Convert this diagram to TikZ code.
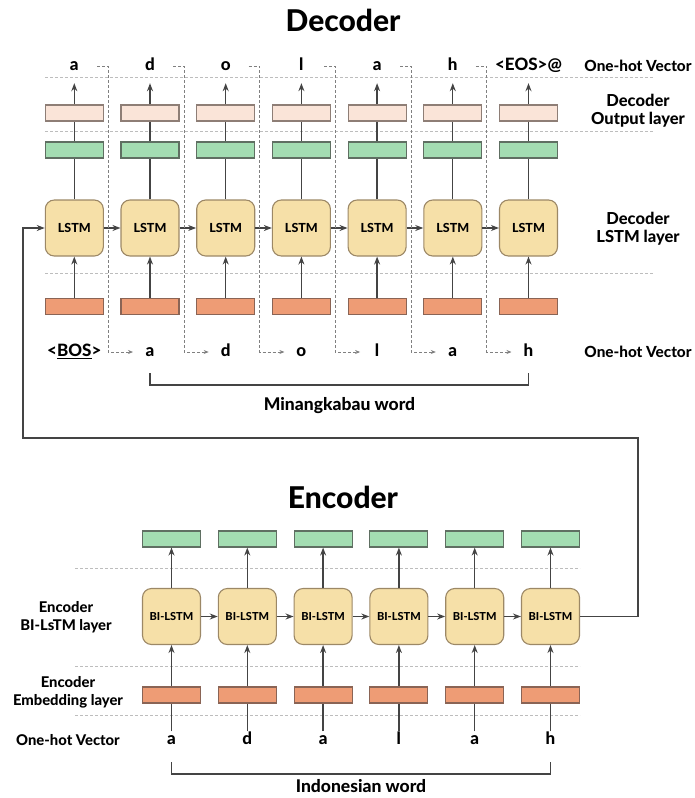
\documentclass[tikz,border=0pt]{standalone}
\usepackage{fontspec}
\setmainfont{Lato}[BoldFont={Lato Heavy}]
\usetikzlibrary{arrows.meta,positioning}

\definecolor{cellfill}{HTML}{F6E0A8}
\definecolor{cellline}{HTML}{9C8866}
\definecolor{pinkfill}{HTML}{FAE4D8}
\definecolor{pinkline}{HTML}{8E7E76}
\definecolor{greenfill}{HTML}{A3DDB2}
\definecolor{greenline}{HTML}{5F6F62}
\definecolor{orangefill}{HTML}{EE9C75}
\definecolor{orangeline}{HTML}{8A6455}
\definecolor{linegray}{HTML}{444444}
\definecolor{guidegray}{HTML}{BDBDBD}

\begin{document}
\begin{tikzpicture}
  [x=1pt,y=-1pt,
   every node/.style={font=\bfseries},
   vec/.style={minimum width=58pt,minimum height=16pt,inner sep=0pt,line width=1.1pt},
   outbox/.style={vec,draw=pinkline,fill=pinkfill},
   hidbox/.style={vec,draw=greenline,fill=greenfill},
   embbox/.style={vec,draw=orangeline,fill=orangefill},
   cell/.style={draw=cellline,fill=cellfill,line width=1.1pt,rounded corners=9pt,
     minimum width=58pt,minimum height=56pt,inner sep=0pt,
     font=\bfseries\fontsize{12.5}{12.5}\selectfont},
   bicell/.style={cell,font=\bfseries\fontsize{11}{11}\selectfont},
   tok/.style={font=\bfseries\fontsize{17}{17}\selectfont,inner sep=1pt,
     text height=12pt,text depth=3pt},
   lbl/.style={font=\bfseries\fontsize{15.3}{18}\selectfont,align=center},
   declbl/.style={lbl,font=\bfseries\fontsize{16.5}{18}\selectfont},
   enclbl/.style={lbl,font=\bfseries\fontsize{14.8}{18}\selectfont},
   wordlbl/.style={font=\bfseries\fontsize{17.5}{18}\selectfont},
   ttl/.style={font=\bfseries\fontsize{30}{30}\selectfont},
   guide/.style={draw=guidegray,dash pattern=on 3pt off 2pt,line width=0.7pt},
   feed/.style={guide,draw=gray,-{Stealth[length=5pt,width=4pt]}},
   wire/.style={draw=linegray,line width=1.3pt},
   link/.style={wire,-{Stealth[length=8pt,width=6pt]}}]

  \useasboundingbox (0,0) rectangle (695,798);

  % decoder
  \node[ttl] (dtitle) at (343,20) {Decoder};
  \draw[guide] (45,77) -- (653,77);
  \draw[guide] (45,131) -- (653,131);
  \draw[guide] (45,273) -- (653,273);

  \foreach \i/\o/\t in {1/a/{<\underline{BOS}>},2/d/a,3/o/d,4/l/o,5/a/l,6/h/a,7/{<EOS>@}/h}{
    \node[tok] (dout\i) at ({74.3+75.7*(\i-1)},66) {\o};
    \node[outbox] (dpro\i) at ({74.3+75.7*(\i-1)},113) {};
    \node[hidbox] (dhid\i) at ({74.3+75.7*(\i-1)},150) {};
    \node[cell] (dlstm\i) at ({74.3+75.7*(\i-1)},228) {LSTM};
    \node[embbox] (demb\i) at ({74.3+75.7*(\i-1)},306.5) {};
    \node[tok] (din\i) at ({74.3+75.7*(\i-1)},352) {\t};
    \draw[wire] (dlstm\i) -- (dhid\i);
    \draw[wire] (dhid\i) -- (dpro\i);
    \draw[link,shorten >=8.5pt] (dpro\i) -- (dout\i);
    \draw[link] (demb\i) -- (dlstm\i);
  }
  \foreach \src/\dst in {1/2,2/3,3/4,4/5,5/6,6/7}{
    \draw[link] (dlstm\src) -- (dlstm\dst);
    \draw[feed] ([xshift=23pt]dout\src.center) -- ++(11,0)
      |- ([xshift=-17pt]din\dst.center);
  }

  \node[lbl] (dvec) at (638,66) {One-hot Vector};
  \node[declbl] (dprolbl) at (638,111) {Decoder\\Output layer};
  \node[declbl] (dlstmlbl) at (638,229) {Decoder\\LSTM layer};
  \node[lbl] (dinlbl) at (638,352) {One-hot Vector};

  \draw[wire] ([yshift=-21pt]din2.center) -- ++(0,12) -| ([yshift=-21pt]din7.center);
  \node[wordlbl] (dword) at (339.5,406) {Minangkabau word};

  % encoder
  \node[ttl] (etitle) at (343,497) {Encoder};
  \draw[guide] (75,568) -- (580,568);
  \draw[guide] (75,666) -- (580,666);
  \draw[guide] (75,715) -- (580,715);

  \foreach \i/\t in {1/a,2/d,3/a,4/l,5/a,6/h}{
    \node[hidbox] (ehid\i) at ({171.5+75.8*(\i-1)},539) {};
    \node[bicell] (ecell\i) at ({171.5+75.8*(\i-1)},616.5) {BI-LSTM};
    \node[embbox] (eemb\i) at ({171.5+75.8*(\i-1)},695) {};
    \node[tok] (ein\i) at ({171.5+75.8*(\i-1)},740) {\t};
    \draw[link] (ecell\i) -- (ehid\i);
    \draw[wire] (ein\i) -- (eemb\i);
    \draw[link] (eemb\i) -- (ecell\i);
  }
  \foreach \src/\dst in {1/2,2/3,3/4,4/5,5/6}
    \draw[link] (ecell\src) -- (ecell\dst);

  \node[enclbl] (ecelllbl) at (66,617) {Encoder\\BI-LsTM layer};
  \node[enclbl] (eemblbl) at (68,692) {Encoder\\Embedding layer};
  \node[enclbl] (einlbl) at (68,740) {One-hot Vector};

  \draw[wire] ([yshift=-22pt]ein1.center) -- ++(0,12) -| ([yshift=-22pt]ein6.center);
  \node[wordlbl] (eword) at (361,786) {Indonesian word};

  % encoder state to decoder
  \coordinate (turn) at (638,438);
  \coordinate (back) at (23,438);
  \draw[link] (ecell6.east) -| (turn) -- (back) |- (dlstm1.west);
\end{tikzpicture}
\end{document}
